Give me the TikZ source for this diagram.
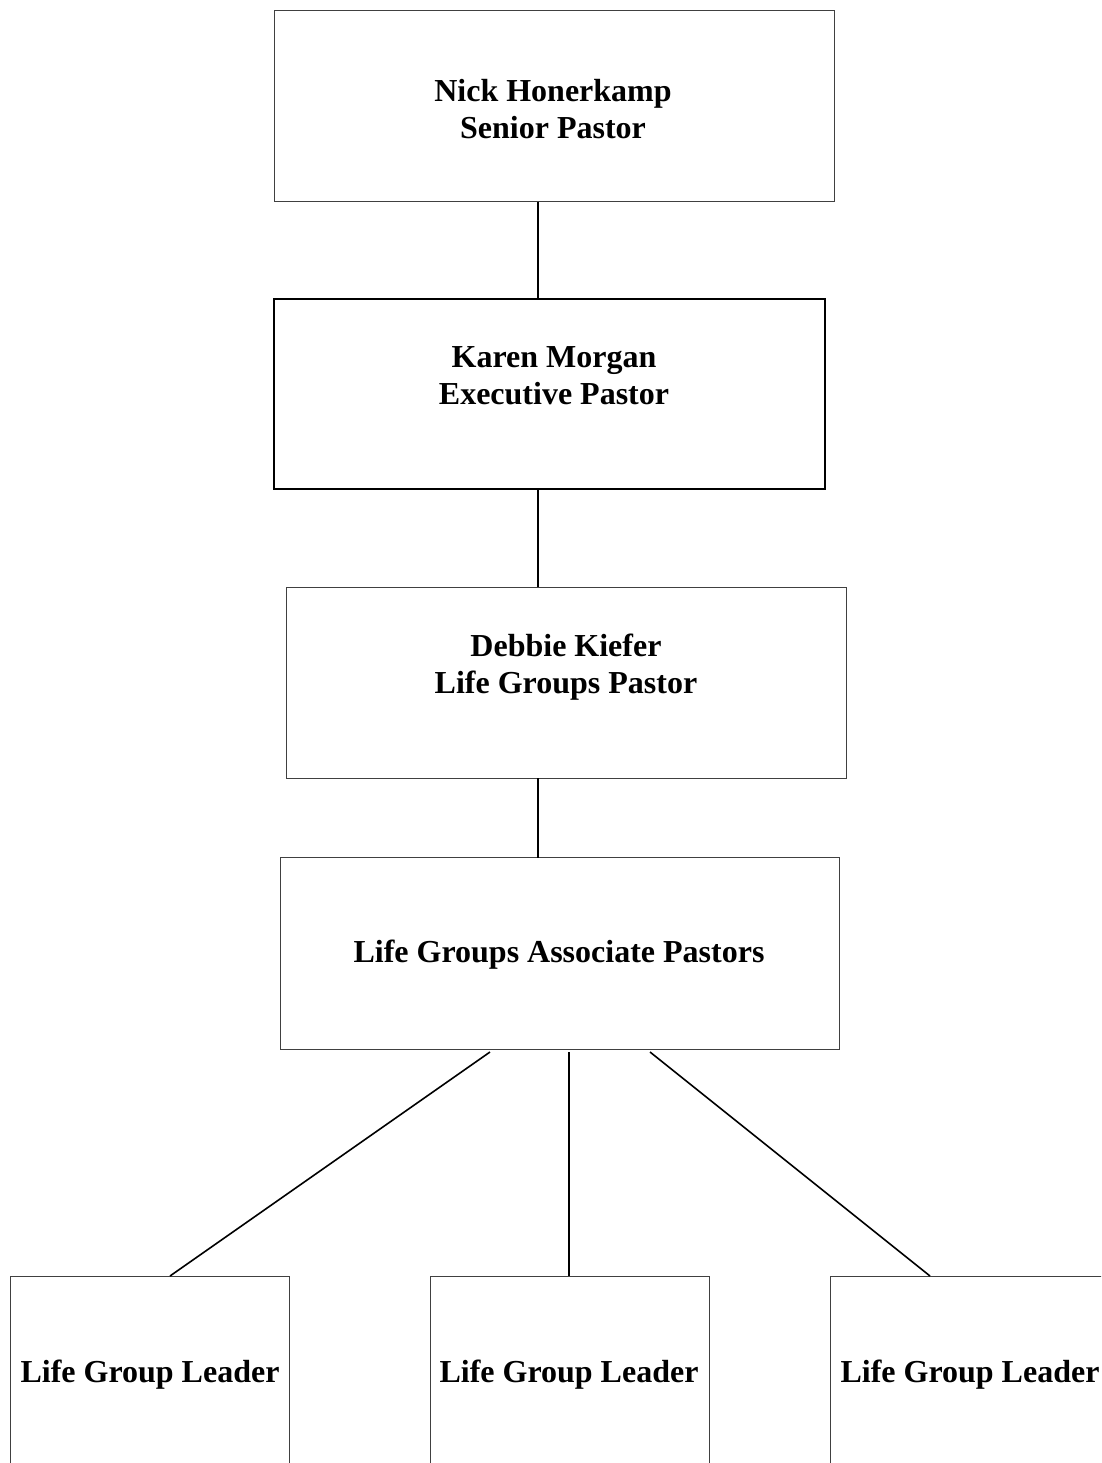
\documentclass[tikz,border=0pt]{standalone}
\usepackage{fontspec}
\setmainfont{Liberation Serif}
\begin{document}
\begin{tikzpicture}[x=1pt,y=-1pt,
  thinbox/.style={draw=black!75,line width=1pt,inner sep=0pt},
  thickbox/.style={draw=black,line width=2.4pt,inner sep=0pt},
  txt/.style={align=center,inner sep=0pt,font=\bfseries\fontsize{32}{37}\selectfont},
  conn/.style={draw=black,line width=1.6pt}]
\useasboundingbox (0,0) rectangle (1101,1463);
\clip (0,0) rectangle (1101,1463);
% boxes
\node[thinbox,minimum width=560pt,minimum height=191pt] (b1) at (554,106.5) {};
\node[thickbox,minimum width=551pt,minimum height=190pt] (b2) at (549.5,394) {};
\node[thinbox,minimum width=560pt,minimum height=191pt] (b3) at (566,682.5) {};
\node[thinbox,minimum width=559pt,minimum height=192pt] (b4) at (559.5,953) {};
\node[thinbox,minimum width=279pt,minimum height=200pt,anchor=north] (l1) at (149.5,1276) {};
\node[thinbox,minimum width=279pt,minimum height=200pt,anchor=north] (l2) at (569.5,1276) {};
\node[thinbox,minimum width=279pt,minimum height=200pt,anchor=north] (l3) at (969.5,1276) {};
% texts
\node[txt] (t1) at (553,109) {Nick Honerkamp\\Senior Pastor};
\node[txt] (t2) at (554,376) {Karen Morgan\\Executive Pastor};
\node[txt] (t3) at (566,667) {Debbie Kiefer\\Life Groups Pastor};
\node[txt] (t4) at (559,955) {Life Groups Associate Pastors};
\node[txt] (t5) at (150,1375) {Life Group Leader};
\node[txt] (t6) at (569,1375) {Life Group Leader};
\node[txt] (t7) at (970,1375) {Life Group Leader};
% connector end points
\coordinate (c1a) at (538,202);
\coordinate (c1b) at (538,299);
\coordinate (c2a) at (538,489);
\coordinate (c2b) at (538,587);
\coordinate (c3a) at (538,778);
\coordinate (c3b) at (538,858);
\coordinate (s1) at (490,1052);
\coordinate (e1) at (170,1276);
\coordinate (s2) at (569,1052);
\coordinate (e2) at (569,1276);
\coordinate (s3) at (650,1052);
\coordinate (e3) at (930,1276);
\draw[conn] (c1a) -- (c1b);
\draw[conn] (c2a) -- (c2b);
\draw[conn] (c3a) -- (c3b);
\draw[conn] (s1) -- (e1);
\draw[conn] (s2) -- (e2);
\draw[conn] (s3) -- (e3);
\end{tikzpicture}
\end{document}
